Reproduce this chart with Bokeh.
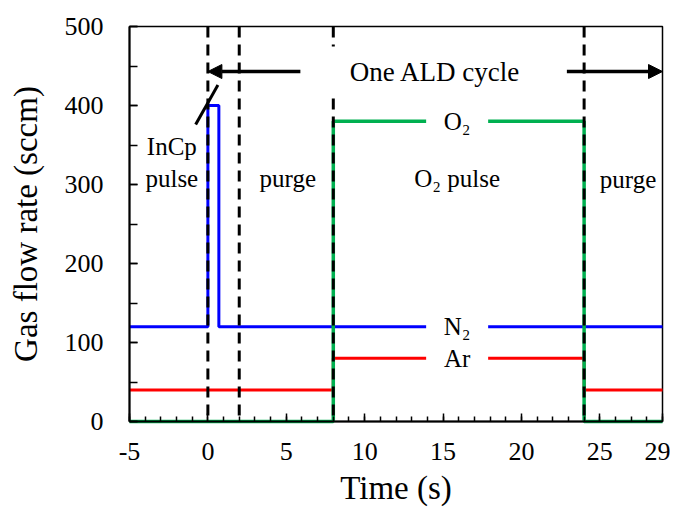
from bokeh.plotting import figure
from bokeh.models import Range1d, FixedTicker, Arrow, NormalHead, Span
from bokeh.core.properties import value
from bokeh.embed import file_html
from bokeh.resources import INLINE

# ---- data ----
time_n2 = [-5, 0, 0, 0.7, 0.7, 29]
n2_flow = [120, 120, 400, 400, 120, 120]
time_ar = [-5, 8, 8, 24, 24, 29]
ar_flow = [40, 40, 80, 80, 40, 40]
time_o2 = [-5, 8, 8, 24, 24, 29]
o2_flow = [0, 0, 380, 380, 0, 0]
step_times = [0, 2, 8, 24]
x_ticks = [-5, 0, 5, 10, 15, 20, 25, 29]
x_minor = list(range(-5, 30))
y_ticks = [0, 100, 200, 300, 400, 500]
y_minor = list(range(0, 501, 50))
slash_x = [-0.78, 0.64]
slash_y = [376, 426]

# gas labels sitting on the lines
gas_names = ["O\u2082", "N\u2082", "Ar"]
gas_label_x = [15.9, 15.9, 15.9]
gas_label_y = [380, 120, 80]
# phase annotations
phase_names = ["InCp", "pulse", "purge", "O\u2082 pulse", "purge"]
phase_x = [-2.3, -2.3, 5.1, 15.9, 26.8]
phase_y = [348, 308, 308, 308, 306]
cycle_text = ["One ALD cycle"]
cycle_x = [14.5]
cycle_y = [443]

FONT = "Liberation Serif"

p = figure(width=670, height=511, output_backend="svg", toolbar_location=None,
           x_range=Range1d(-5, 29), y_range=Range1d(0, 500),
           min_border_left=129, min_border_right=8, min_border_top=26, min_border_bottom=90)
p.grid.visible = False
p.background_fill_color = "white"
p.border_fill_color = "white"
p.outline_line_color = "black"
p.outline_line_width = 1.5
p.outline_line_alpha = 1

# axes
p.xaxis.ticker = FixedTicker(ticks=x_ticks, minor_ticks=x_minor)
p.yaxis.ticker = FixedTicker(ticks=y_ticks, minor_ticks=y_minor)
p.xaxis.major_label_overrides = {-5: "-5"}
for ax in (p.xaxis[0], p.yaxis[0]):
    ax.axis_line_color = "black"
    ax.axis_line_width = 2
    ax.major_tick_line_color = "black"
    ax.minor_tick_line_color = "black"
    ax.major_tick_line_width = 1.5
    ax.minor_tick_line_width = 1.5
    ax.major_tick_out = 0
    ax.minor_tick_out = 0
    ax.major_label_text_font = FONT
    ax.major_label_text_font_size = "26px"
    ax.major_label_text_color = "black"
    ax.axis_label_text_font = FONT
    ax.axis_label_text_font_size = "33px"
    ax.axis_label_text_font_style = "normal"
    ax.axis_label_text_color = "black"
p.xaxis.major_tick_in = 8
p.xaxis.minor_tick_in = 5
p.yaxis.major_tick_in = 8
p.yaxis.minor_tick_in = 8
p.xaxis.axis_label = "Time (s)"
p.yaxis.axis_label = "Gas flow rate (sccm)"
p.xaxis.major_label_standoff = 21
p.xaxis.axis_label_standoff = 7
p.yaxis.major_label_standoff = 26
p.yaxis.axis_label_standoff = 18

# data lines (drawn over the axis line, like the original)
p.line(time_n2, n2_flow, line_color="#0000ff", line_width=3, level="guide")
p.line(time_ar, ar_flow, line_color="#ff0000", line_width=3, level="guide")
p.line(time_o2, o2_flow, line_color="#00b050", line_width=3.5, level="guide")
p.line(slash_x, slash_y, line_color="black", line_width=3, level="guide")

# vertical dashed step lines
for t in step_times:
    p.add_layout(Span(location=t, dimension="height", line_color="black",
                      line_width=3, line_dash="11 7"))

# arrows for the cycle
p.add_layout(Arrow(end=NormalHead(size=14, fill_color="black", line_color="black"),
                   x_start=5.9, y_start=443, x_end=0, y_end=443,
                   line_width=3.5, line_color="black"))
p.add_layout(Arrow(end=NormalHead(size=14, fill_color="black", line_color="black"),
                   x_start=22.9, y_start=443, x_end=29, y_end=443,
                   line_width=3.5, line_color="black"))

# white boxes behind the labels (gaps in lines)
p.rect(x=gas_label_x, y=gas_label_y, width=62, height=28,
       width_units="screen", height_units="screen",
       fill_color="white", line_color=None, level="overlay")
p.rect(x=cycle_x, y=cycle_y, width=222, height=50,
       width_units="screen", height_units="screen",
       fill_color="white", line_color=None, level="overlay")

txt = dict(text_font=value(FONT), text_align="center", text_baseline="middle",
           text_color="black", level="overlay")
p.text(x=gas_label_x, y=gas_label_y, text=gas_names, text_font_size="25px", **txt)
p.text(x=phase_x, y=phase_y, text=phase_names, text_font_size="25px", **txt)
p.text(x=cycle_x, y=cycle_y, text=cycle_text, text_font_size="27px", **txt)

open("out.html", "w").write(file_html(p, INLINE))
